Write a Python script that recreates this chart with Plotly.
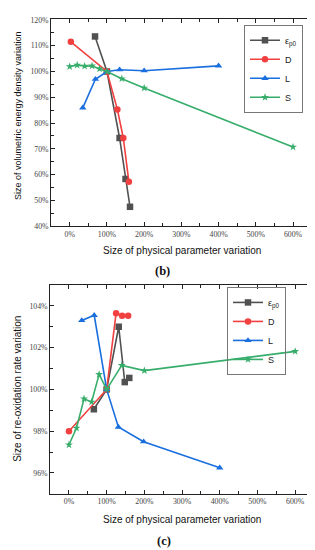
import plotly.graph_objects as go

# ---------------- data ----------------
series_names = ["ε<sub>p0</sub>", "D", "L", "S"]
colors = ["#515151", "#F14040", "#1A6FDF", "#37AD6B"]
symbols = ["square", "circle", "triangle-up", "star"]

# panel (b): volumetric energy density variation (%)
eps_x_b = [68, 100, 134, 150, 162]
eps_y_b = [113.6, 100, 74.2, 58.3, 47.5]
D_x_b = [3, 100, 128, 144, 159]
D_y_b = [111.5, 100, 85.3, 74.2, 57.2]
L_x_b = [35, 69, 100, 134, 200, 400]
L_y_b = [85.9, 97.0, 100, 100.7, 100.3, 102.2]
S_x_b = [0, 20, 40, 60, 80, 100, 140, 200, 600]
S_y_b = [101.9, 102.5, 102.1, 102.2, 101.0, 100, 97.2, 93.6, 70.7]

# panel (c): re-oxidation rate variation (%)
eps_x_c = [66, 100, 132, 148, 160]
eps_y_c = [99.05, 100, 103.0, 100.35, 100.55]
D_x_c = [0, 100, 125, 141, 157]
D_y_c = [98.0, 100, 103.65, 103.53, 103.53]
L_x_c = [34, 67, 100, 131, 198, 400]
L_y_c = [103.3, 103.55, 100, 98.2, 97.5, 96.25]
S_x_c = [0, 20, 40, 60, 80, 100, 140, 200, 600]
S_y_c = [97.35, 98.15, 99.55, 99.4, 100.72, 100, 101.15, 100.9, 101.82]

x_tickvals = [0, 100, 200, 300, 400, 500, 600]
x_ticktext = ["0%", "100%", "200%", "300%", "400%", "500%", "600%"]
yb_tickvals = [40, 50, 60, 70, 80, 90, 100, 110, 120]
yb_ticktext = ["40%", "50%", "60%", "70%", "80%", "90%", "100%", "110%", "120%"]
yc_tickvals = [96, 98, 100, 102, 104]
yc_ticktext = ["96%", "98%", "100%", "102%", "104%"]

x_title = "Size of physical parameter variation"
yb_title = "Size of volumetric energy density variation"
yc_title = "Size of re-oxidation rate variation"

# ---------------- figure ----------------
W, H = 315, 550
fig = go.Figure()

panels = [
    ("x", "y", "legend", [(eps_x_b, eps_y_b), (D_x_b, D_y_b), (L_x_b, L_y_b), (S_x_b, S_y_b)]),
    ("x2", "y2", "legend2", [(eps_x_c, eps_y_c), (D_x_c, D_y_c), (L_x_c, L_y_c), (S_x_c, S_y_c)]),
]
for xa, ya, lg, data in panels:
    for i, (xs, ys) in enumerate(data):
        fig.add_trace(go.Scatter(
            x=xs, y=ys, mode="lines+markers", name=series_names[i],
            xaxis=xa, yaxis=ya, legend=lg, cliponaxis=False,
            line=dict(color=colors[i], width=1.6),
            marker=dict(symbol=symbols[i], color=colors[i],
                        size=6.5 if symbols[i] != "star" else 6),
        ))

def px_x(p):
    return p / W

def px_y(p):
    return 1 - p / H

tickfont = dict(family="Liberation Serif, Times New Roman, serif", size=7.8, color="#444")
axis_common = dict(
    showline=True, linecolor="#222", linewidth=1.3, mirror="ticks",
    ticks="inside", ticklen=4, tickwidth=1.2, tickcolor="#222",
    showgrid=False, zeroline=False, tickfont=tickfont,
)

legend_font = dict(family="Liberation Sans, Arial, sans-serif", size=9, color="#222")
fig.update_layout(
    width=W, height=H,
    margin=dict(l=0, r=0, t=0, b=0),
    paper_bgcolor="white", plot_bgcolor="white",
    xaxis=dict(domain=[px_x(43.3), px_x(302.7)], range=[-49.5, 647.5], anchor="y",
               tickvals=x_tickvals, ticktext=x_ticktext,
               minor=dict(dtick=50, tick0=0, ticks="inside", ticklen=2.5, tickcolor="#222"),
               **axis_common),
    yaxis=dict(domain=[px_y(218.3), px_y(8.3)], range=[40, 120.3], anchor="x",
               tickvals=yb_tickvals, ticktext=yb_ticktext,
               minor=dict(dtick=5, tick0=0, ticks="inside", ticklen=2.5, tickcolor="#222"),
               **axis_common),
    xaxis2=dict(domain=[px_x(42.3), px_x(306)], range=[-49.5, 650], anchor="y2",
                tickvals=x_tickvals, ticktext=x_ticktext,
                minor=dict(dtick=50, tick0=0, ticks="inside", ticklen=2.5, tickcolor="#222"),
                **axis_common),
    yaxis2=dict(domain=[px_y(490), px_y(278)], range=[95, 105], anchor="x2",
                tickvals=yc_tickvals, ticktext=yc_ticktext,
                minor=dict(dtick=1, tick0=0, ticks="inside", ticklen=2.5, tickcolor="#222"),
                **axis_common),
    legend=dict(x=px_x(236), y=px_y(14), xanchor="left", yanchor="top",
                bordercolor="#777", borderwidth=1, bgcolor="white",
                font=legend_font, tracegroupgap=0, itemwidth=30),
    legend2=dict(x=px_x(219), y=px_y(280), xanchor="left", yanchor="top",
                 bordercolor="#777", borderwidth=1, bgcolor="rgba(255,255,255,0)",
                 font=legend_font, tracegroupgap=0, itemwidth=30),
    showlegend=True,
)

title_font = dict(family="Liberation Sans, Arial, sans-serif", size=10, color="#111")
title_font_small = dict(family="Liberation Sans, Arial, sans-serif", size=9, color="#111")
cap_font = dict(family="Liberation Serif, Times New Roman, serif", size=12.5, color="#111")
annotations = [
    dict(text=x_title, x=px_x(174), y=px_y(243.3), font=title_font),
    dict(text=x_title, x=px_x(174), y=px_y(515.7), font=title_font),
    dict(text=yb_title, x=px_x(10), y=px_y(106.5), textangle=-90, font=title_font_small),
    dict(text=yc_title, x=px_x(10), y=px_y(383.4), textangle=-90, font=title_font),
    dict(text="<b>(b)</b>", x=px_x(154), y=px_y(264), font=cap_font),
    dict(text="<b>(c)</b>", x=px_x(155.5), y=px_y(537.5), font=cap_font),
]
for a in annotations:
    fig.add_annotation(xref="paper", yref="paper", showarrow=False,
                       xanchor="center", yanchor="middle", **a)

fig.write_html("out.html")
